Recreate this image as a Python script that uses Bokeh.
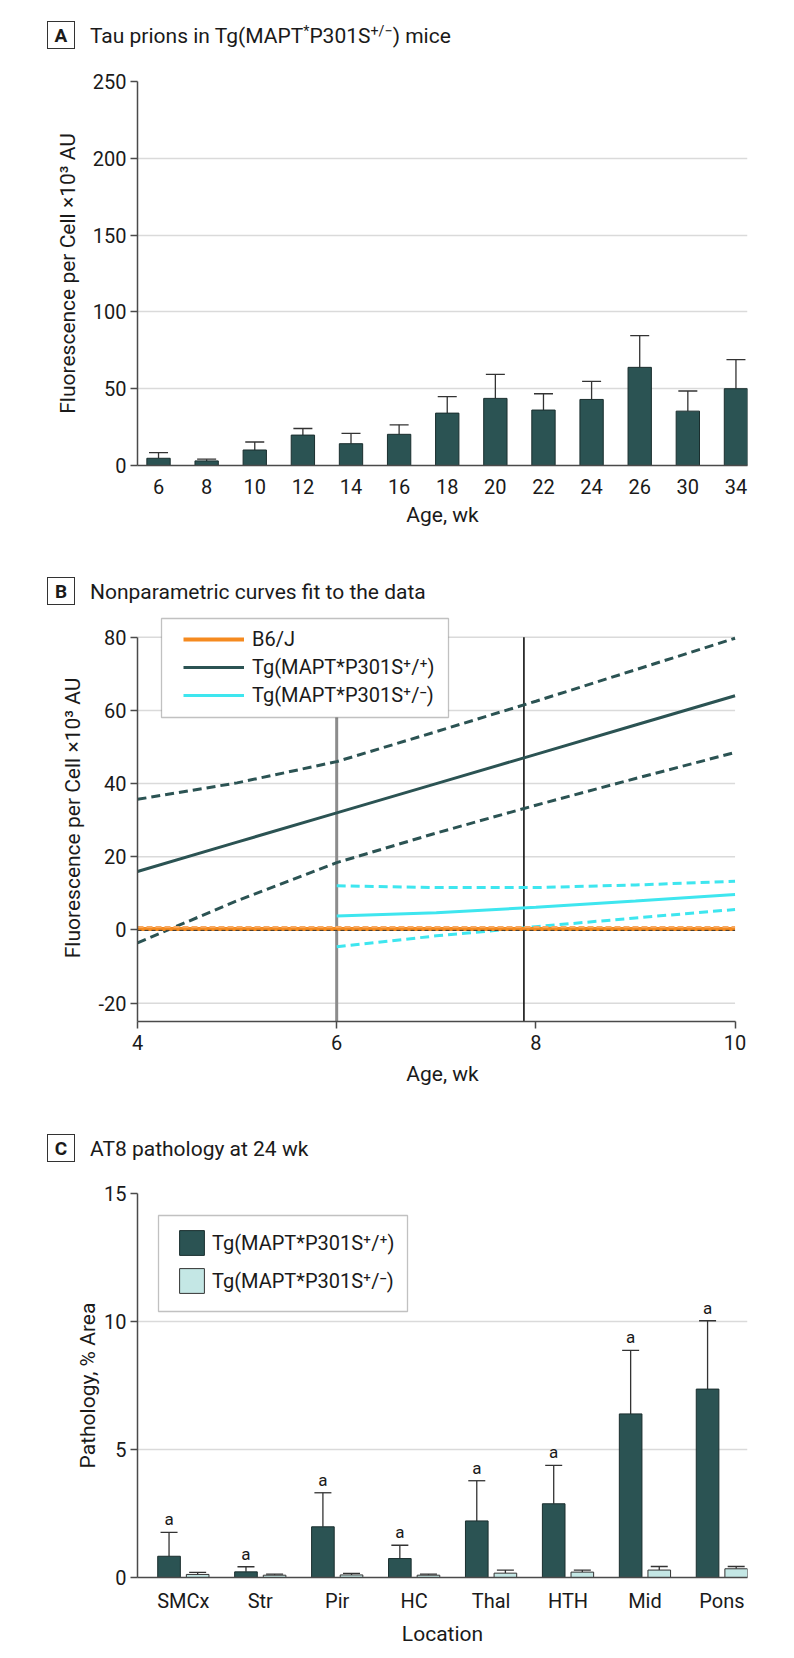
from bokeh.plotting import figure
from bokeh.models import (ColumnDataSource, Whisker, TeeHead, FixedTicker, Range1d,
                          Legend, LegendItem, BoxAnnotation, Div)
from bokeh.layouts import column
from bokeh.embed import file_html
from bokeh.resources import INLINE
from bokeh.core.properties import value

FONT = "Roboto"
TEAL = "#2b5353"
CYAN = "#3ee6ef"
ORANGE = "#f58a1f"
LIGHT = "#c4e7e5"
AXIS = "#4a4a4a"
GRID = "#dadada"
INK = "#1a1a1a"

# ---------------- Panel A data ----------------
a_ages = ["6", "8", "10", "12", "14", "16", "18", "20", "22", "24", "26", "30", "34"]
a_mean = [4.7, 3.0, 10.1, 19.8, 14.2, 20.3, 34.1, 43.7, 36.1, 43.0, 63.9, 35.4, 50.0]
a_upper = [8.4, 4.1, 15.3, 24.1, 20.9, 26.5, 44.8, 59.3, 46.7, 54.8, 84.6, 48.5, 68.9]
a_yticks = [0, 50, 100, 150, 200, 250]

# ---------------- Panel B data ----------------
b_x_bj = [4, 10]
b_bj_fit = [0.3, 0.3]
b_bj_hi = [0.8, 0.8]
b_bj_lo = [-0.1, -0.1]
b_x_hom = [4, 5, 6, 7, 8, 9, 10]
b_hom_fit = [16, 24, 32, 40, 48, 56, 64]
b_hom_hi = [35.7, 40.2, 46.0, 54.2, 62.5, 71.1, 79.7]
b_hom_lo = [-3.5, 8.0, 18.4, 26.5, 34.1, 41.4, 48.5]
b_x_het = [6, 7, 8, 9, 10]
b_het_fit = [3.8, 4.7, 6.2, 7.9, 9.7]
b_het_hi = [12.1, 11.6, 11.6, 12.3, 13.3]
b_het_lo = [-4.6, -1.6, 0.9, 3.3, 5.6]
b_vlines = [6, 7.88]
b_xticks = [4, 6, 8, 10]
b_yticks = [-20, 0, 20, 40, 60, 80]

# ---------------- Panel C data ----------------
c_locations = ["SMCx", "Str", "Pir", "HC", "Thal", "HTH", "Mid", "Pons"]
c_hom_mean = [0.83, 0.22, 1.98, 0.74, 2.21, 2.88, 6.39, 7.36]
c_hom_upper = [1.76, 0.42, 3.31, 1.26, 3.78, 4.38, 8.87, 10.03]
c_het_mean = [0.12, 0.09, 0.10, 0.09, 0.17, 0.21, 0.29, 0.34]
c_het_upper = [0.20, 0.13, 0.16, 0.13, 0.29, 0.29, 0.43, 0.43]
c_marks = ["a"] * 8
c_yticks = [0, 5, 10, 15]

HOM = "Tg(MAPT*P301S\u207a/\u207a)"
HET = "Tg(MAPT*P301S\u207a/\u207b)"
YLAB = "Fluorescence per Cell \u00d710\u00b3 AU"

W = 790
TITLE_H = 56
BORDER_L = 137
BORDER_R = W - 747

SUP = '<span style="font-size:0.68em;position:relative;top:-0.5em;">{}</span>'


def title_div(letter, heading):
    html = (
        '<div style="position:relative;width:%dpx;height:%dpx;font-family:Roboto,sans-serif;'
        'color:#1a1a1a;margin:0;padding:0;">'
        '<div style="position:absolute;left:47px;top:21px;width:28px;height:28px;'
        'border:1.3px solid #333333;font-weight:bold;font-size:19px;line-height:28px;'
        'text-align:center;background:#ffffff;">%s</div>'
        '<div style="position:absolute;left:90px;top:26px;font-size:21px;line-height:21px;'
        'white-space:nowrap;">%s</div>'
        '</div>' % (W, TITLE_H, letter, heading))
    return Div(text=html, width=W, height=TITLE_H, margin=(0, 0, 0, 0))


def base_fig(height, xr, yr, bt, bb):
    p = figure(width=W, height=height, x_range=xr, y_range=yr,
               output_backend="svg", toolbar_location=None,
               min_border_left=BORDER_L, min_border_right=BORDER_R,
               min_border_top=bt, min_border_bottom=bb)
    p.outline_line_color = None
    p.background_fill_color = "white"
    p.border_fill_color = "white"
    p.xgrid.visible = False
    p.ygrid.grid_line_color = GRID
    p.ygrid.grid_line_width = 1.5
    for ax in p.axis:
        ax.axis_line_color = AXIS
        ax.axis_line_width = 1.5
        ax.major_tick_line_color = AXIS
        ax.major_tick_line_width = 1.5
        ax.minor_tick_line_color = None
        ax.major_tick_in = 0
        ax.major_tick_out = 7
        ax.major_label_text_font = FONT
        ax.major_label_text_font_size = "20px"
        ax.major_label_text_color = INK
        ax.axis_label_text_font = FONT
        ax.axis_label_text_font_size = "21px"
        ax.axis_label_text_font_style = "normal"
        ax.axis_label_text_color = INK
    p.yaxis.major_label_standoff = 4
    return p


# ================= Panel A =================
tA = title_div("A", "Tau prions in Tg(MAPT" + SUP.format("*") + "P301S" + SUP.format("+/\u2212") + ") mice")
a_idx = list(range(len(a_ages)))
pA = base_fig(500, Range1d(-0.437, 12.24), Range1d(0, 250), 25, 91)
srcA = ColumnDataSource(dict(x=a_idx, top=a_mean, upper=a_upper))
pA.add_layout(Whisker(source=srcA, base="x", lower="top", upper="upper", dimension="height",
                      line_color="#333333", line_width=1.3, lower_head=None,
                      upper_head=TeeHead(size=19, line_color="#333333", line_width=1.3)))
pA.vbar(x="x", top="top", bottom=0, width=0.485, source=srcA,
        fill_color=TEAL, line_color="#1a2e2e", line_width=1)
pA.xaxis.ticker = FixedTicker(ticks=a_idx)
pA.xaxis.major_label_overrides = {i: s for i, s in zip(a_idx, a_ages)}
pA.xaxis.major_tick_out = 0
pA.xaxis.major_label_standoff = 13
pA.xaxis.axis_label_standoff = 6
pA.yaxis.ticker = FixedTicker(ticks=a_yticks)
pA.xaxis.axis_label = "Age, wk"
pA.yaxis.axis_label = YLAB
pA.yaxis.axis_label_standoff = 10

# ================= Panel B =================
tB = title_div("B", "Nonparametric curves fit to the data")
pB = base_fig(501, Range1d(4, 10.125), Range1d(-25, 86.2), 2, 92)
pB.ygrid.visible = False
pB.xaxis.bounds = (min(b_xticks), max(b_xticks))
pB.yaxis.bounds = (-25, max(b_yticks))
pB.xaxis.ticker = FixedTicker(ticks=b_xticks)
pB.yaxis.ticker = FixedTicker(ticks=b_yticks)
pB.yaxis.major_label_overrides = {-20: "-20"}
pB.xaxis.major_label_standoff = 6
pB.xaxis.axis_label_standoff = 9
pB.xaxis.axis_label = "Age, wk"
pB.yaxis.axis_label = YLAB
pB.yaxis.axis_label_standoff = 10

# horizontal grid across the data span only
n_yt = len(b_yticks)
pB.segment(x0=[min(b_xticks)] * n_yt, x1=[max(b_xticks)] * n_yt, y0=b_yticks, y1=b_yticks,
           line_color=GRID, line_width=1.5, level="underlay")

pB.segment(x0=b_vlines, x1=b_vlines, y0=[-25, -25], y1=[80, 80],
           line_color=["#8c8c8c", "#111111"], line_width=[3, 1.6])

DASH = "9 5"
pB.line(b_x_hom, b_hom_hi, line_color=TEAL, line_width=3, line_dash=DASH)
pB.line(b_x_hom, b_hom_lo, line_color=TEAL, line_width=3, line_dash=DASH)
r_hom = pB.line(b_x_hom, b_hom_fit, line_color=TEAL, line_width=3)
pB.line(b_x_het, b_het_hi, line_color=CYAN, line_width=3, line_dash=DASH)
pB.line(b_x_het, b_het_lo, line_color=CYAN, line_width=3, line_dash=DASH)
r_het = pB.line(b_x_het, b_het_fit, line_color=CYAN, line_width=3)
r_bj = pB.line(b_x_bj, b_bj_fit, line_color=ORANGE, line_width=4)
pB.line(b_x_bj, b_bj_hi, line_color="#f7a860", line_width=2, line_dash="6 3")
pB.line(b_x_bj, b_bj_lo, line_color="#333333", line_width=1, line_dash="4 3")

pB.add_layout(BoxAnnotation(left=24, right=311, top=403, bottom=304,
                            left_units="screen", right_units="screen",
                            top_units="screen", bottom_units="screen",
                            fill_color="white", fill_alpha=1,
                            line_color="#333333", line_width=1.3))
legB = Legend(items=[LegendItem(label="B6/J", renderers=[r_bj]),
                     LegendItem(label=HOM, renderers=[r_hom]),
                     LegendItem(label=HET, renderers=[r_het])],
              location=(46, 312), padding=0, margin=0, spacing=0,
              glyph_width=61, glyph_height=28, label_height=28, label_standoff=8,
              label_text_font=FONT, label_text_font_size="20px", label_text_color=INK,
              border_line_color=None, background_fill_alpha=0)
pB.add_layout(legB)

# ================= Panel C =================
tC = title_div("C", "AT8 pathology at 24 wk")
c_idx = list(range(len(c_locations)))
OFF = 0.186
BW = 0.294
c_x_hom = [i - OFF for i in c_idx]
c_x_het = [i + OFF for i in c_idx]
pC = base_fig(481, Range1d(-0.596, 7.333), Range1d(0, 15), 24, 73)
srcC1 = ColumnDataSource(dict(x=c_x_hom, top=c_hom_mean, upper=c_hom_upper, m=c_marks))
srcC2 = ColumnDataSource(dict(x=c_x_het, top=c_het_mean, upper=c_het_upper))
pC.add_layout(Whisker(source=srcC1, base="x", lower="top", upper="upper", dimension="height",
                      line_color="#333333", line_width=1.3, lower_head=None,
                      upper_head=TeeHead(size=17, line_color="#333333", line_width=1.3)))
pC.add_layout(Whisker(source=srcC2, base="x", lower="top", upper="upper", dimension="height",
                      line_color="#333333", line_width=1.3, lower_head=None,
                      upper_head=TeeHead(size=17, line_color="#333333", line_width=1.3)))
rc1 = pC.vbar(x="x", top="top", bottom=0, width=BW, source=srcC1,
              fill_color=TEAL, line_color="#1a2e2e", line_width=1)
rc2 = pC.vbar(x="x", top="top", bottom=0, width=BW, source=srcC2,
              fill_color=LIGHT, line_color="#333333", line_width=1)
pC.text(x="x", y="upper", text="m", source=srcC1, text_align="center",
        text_baseline="alphabetic", y_offset=-13, text_font=value(FONT),
        text_font_size="17px", text_color=INK)
pC.xaxis.ticker = FixedTicker(ticks=c_idx)
pC.xaxis.major_label_overrides = {i: s for i, s in zip(c_idx, c_locations)}
pC.xaxis.major_tick_out = 0
pC.xaxis.major_label_standoff = 11
pC.xaxis.axis_label_standoff = 6
pC.yaxis.ticker = FixedTicker(ticks=c_yticks)
pC.xaxis.axis_label = "Location"
pC.yaxis.axis_label = "Pathology, % Area"
pC.yaxis.axis_label_standoff = 1

pC.add_layout(BoxAnnotation(left=21, right=270, top=362, bottom=266,
                            left_units="screen", right_units="screen",
                            top_units="screen", bottom_units="screen",
                            fill_color="white", fill_alpha=1,
                            line_color="#333333", line_width=1.3))
legC = Legend(items=[LegendItem(label=HOM, renderers=[rc1]),
                     LegendItem(label=HET, renderers=[rc2])],
              location=(39, 281), padding=0, margin=0, spacing=7,
              glyph_width=31, glyph_height=31, label_height=31, label_standoff=5,
              label_text_font=FONT, label_text_font_size="20px", label_text_color=INK,
              border_line_color=None, background_fill_alpha=0)
pC.add_layout(legC)

layout = column(tA, pA, tB, pB, tC, pC, spacing=0)
open("out.html", "w").write(file_html(layout, INLINE))
